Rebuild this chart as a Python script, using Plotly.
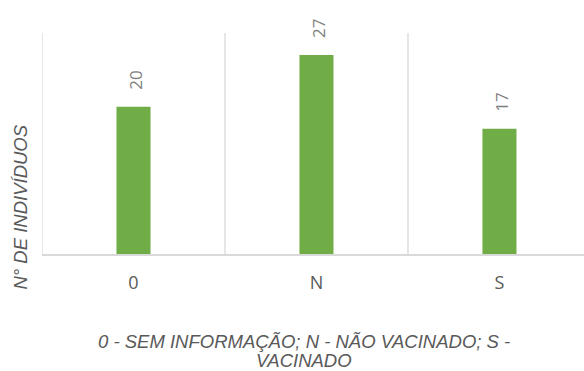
import plotly.graph_objects as go

categories = ["0", "N", "S"]
counts = [20, 27, 17]

bar_color = "#70ad47"
grid_color = "#d9d9d9"
text_color = "#595959"
label_color = "#7f7f7f"

fig = go.Figure(
    go.Bar(
        x=categories,
        y=counts,
        marker=dict(color=bar_color, line=dict(width=0)),
        width=0.186,
        hoverinfo="skip",
    )
)

# value labels above each bar, rotated
for cat, val in zip(categories, counts):
    fig.add_annotation(
        x=cat, y=val, text=str(val), showarrow=False,
        textangle=-90, xanchor="center", yanchor="bottom", yshift=15, xshift=2,
        font=dict(family="Open Sans, Liberation Sans, sans-serif", size=17, color=label_color),
    )

# vertical separators on category boundaries
for b in [-0.5, 0.5, 1.5, 2.5]:
    fig.add_shape(type="line", xref="x", yref="y", x0=b, x1=b, y0=0, y1=30,
                  line=dict(color=grid_color, width=1.3), layer="below")

title_font = dict(family="Liberation Sans, Arial, sans-serif", size=18.5, color=text_color)

fig.add_annotation(
    xref="paper", yref="paper", x=-0.039, y=0.214, text="<i>N° DE INDIVÍDUOS</i>",
    textangle=-90, showarrow=False, xanchor="center", yanchor="middle",
    font=title_font, borderpad=0,
)
fig.add_annotation(
    xref="paper", yref="paper", x=0.483, y=-0.398,
    text="<i>0 - SEM INFORMAÇÃO; N - NÃO VACINADO; S -</i>",
    showarrow=False, xanchor="center", yanchor="middle",
    font=title_font, borderpad=0,
)
fig.add_annotation(
    xref="paper", yref="paper", x=0.483, y=-0.482,
    text="<i>VACINADO</i>",
    showarrow=False, xanchor="center", yanchor="middle",
    font=title_font, borderpad=0,
)

fig.update_layout(
    width=584, height=371,
    margin=dict(l=42, r=0, t=33, b=117),
    paper_bgcolor="white", plot_bgcolor="white",
    showlegend=False,
    xaxis=dict(
        range=[-0.5, 2.462], showgrid=False, zeroline=False,
        showline=True, linecolor=grid_color, linewidth=1.5,
        ticks="", tickfont=dict(family="Open Sans, sans-serif", size=18, color=text_color),
        ticklabelstandoff=12,
    ),
    yaxis=dict(range=[0, 30], showgrid=False, zeroline=False, showticklabels=False,
               showline=False),
)

fig.write_html("out.html")
